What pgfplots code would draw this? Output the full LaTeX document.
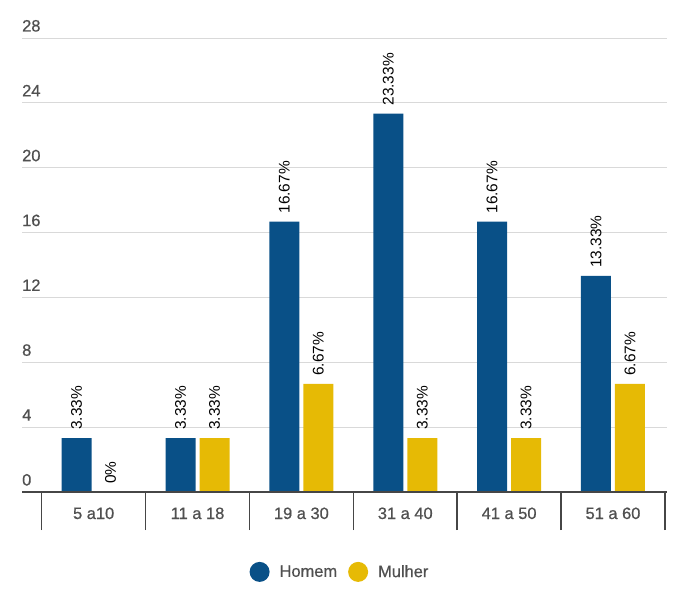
\documentclass[border=0pt]{standalone}
\usepackage{pgfplots}
\pgfplotsset{compat=1.18}
\usepackage{fontspec}
\setmainfont{Liberation Sans}
\newfontfamily\medfont{Liberation Sans}[FakeBold=0.7]
\definecolor{cblue}{RGB}{9,80,135}
\definecolor{cyel}{RGB}{230,186,5}
\definecolor{tgray}{RGB}{80,80,80}
\definecolor{agray}{RGB}{70,70,70}
\begin{document}
\begin{tikzpicture}
\path (-22bp,-106bp) rectangle (675bp,492bp);
\begin{axis}[
  at={(0,0)}, anchor=south west,
  scale only axis, width=645bp, height=454bp,
  xmin=-0.69, xmax=5.52, ymin=0, ymax=28,
  ybar=4bp, bar width=30bp,
  /pgf/number format/assume math mode=true,
  ytick={0,4,...,28},
  ymajorgrids, major grid style={draw=black!15, line width=0.9bp},
  axis line style={draw=none},
  major tick length=0pt,
  minor tick length=38bp,
  tick align=outside,
  xtick pos=bottom, ytick pos=left,
  yticklabel style={anchor=base west, inner sep=0pt, yshift=6.5bp,
    font=\medfont\fontsize{16.5}{19}\selectfont, text=tgray},
  xtick={0,...,5},
  xticklabels={5 a10, 11 a 18, 19 a 30, 31 a 40, 41 a 50, 51 a 60},
  xticklabel style={anchor=base, inner sep=0pt, yshift=-27bp,
    font=\medfont\fontsize{16.5}{19}\selectfont, text=tgray},
  minor xtick={-0.5,0.5,...,5.5},
  minor tick style={draw=agray, line width=1.4bp},
  nodes near coords={\pgfmathprintnumber[fixed,precision=2]{\pgfplotspointmeta}\%},
  every node near coord/.append style={rotate=90, anchor=west, inner xsep=8bp,
    font=\fontsize{15.5}{18}\selectfont, text=black},
  legend style={at={(0.493,-0.176)}, anchor=center, draw=none, fill=none,
    legend columns=-1, font=\medfont\fontsize{16.5}{19}\selectfont, text=tgray,
    /tikz/every even column/.append style={column sep=9bp},
    /tikz/every odd column/.append style={column sep=8bp}},
  clip=false,
]
\addplot[fill=cblue, draw=none,
  legend image code/.code={\fill[cblue] (0bp,0bp) circle (10bp);}]
  coordinates {(0,3.33) (1,3.33) (2,16.67) (3,23.33) (4,16.67) (5,13.33)};
\addlegendentry{Homem}
\addplot[fill=cyel, draw=none,
  legend image code/.code={\fill[cyel] (0bp,0bp) circle (10bp);}]
  coordinates {(0,0) (1,3.33) (2,6.67) (3,3.33) (4,3.33) (5,6.67)};
\addlegendentry{Mulher}
\draw[agray, line width=2.6bp] (axis cs:-0.69,0) -- (axis cs:5.52,0);
\draw[agray, line width=2.8bp] (axis cs:5.5,0) -- ([yshift=-38bp]axis cs:5.5,0);
\end{axis}
\end{tikzpicture}
\end{document}
